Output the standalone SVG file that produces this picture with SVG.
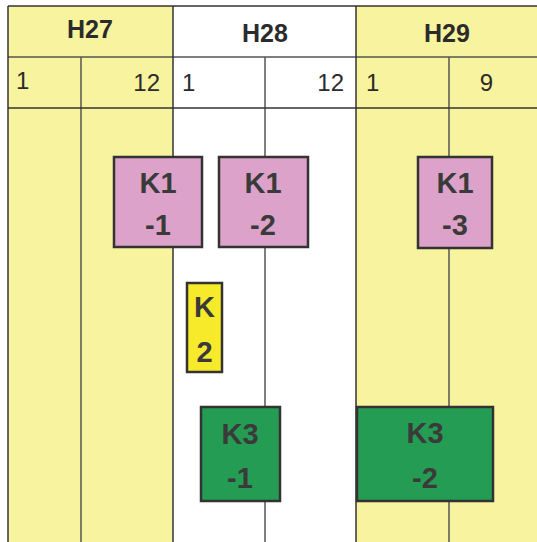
<svg xmlns="http://www.w3.org/2000/svg" width="537" height="542" viewBox="0 0 537 542">
<style>
.hd{font-family:"Liberation Sans",Arial,sans-serif;font-weight:bold;font-size:25px;fill:#2b2b2b;text-anchor:middle}
.sub{font-family:"Liberation Sans",Arial,sans-serif;font-size:24px;fill:#2b2b2b}
.grid{stroke:#333;stroke-width:1.5;fill:none}
.gl{stroke:#555;stroke-width:1.5;fill:none}
.box{stroke:#333;stroke-width:2.5}
.bt{font-family:"Liberation Sans",Arial,sans-serif;font-weight:bold;font-size:29px;fill:#3a3a3a;text-anchor:middle}
</style>
<rect x="0" y="0" width="537" height="542" fill="#fff"/>
<g id="grid">
<rect x="8" y="6" width="165" height="536" fill="#f8f39e"/>
<rect x="356" y="6" width="181" height="536" fill="#f8f39e"/>
<line class="gl" x1="81" y1="57" x2="81" y2="542"/>
<line class="gl" x1="265" y1="57" x2="265" y2="542"/>
<line class="gl" x1="449" y1="57" x2="449" y2="542"/>
<line class="grid" x1="8" y1="6" x2="537" y2="6"/>
<line class="gl" x1="8" y1="57" x2="537" y2="57" stroke="#777"/>
<line class="grid" x1="8" y1="108" x2="537" y2="108"/>
<line class="grid" x1="8" y1="6" x2="8" y2="542"/>
<line class="grid" x1="173" y1="6" x2="173" y2="542"/>
<line class="grid" x1="356" y1="6" x2="356" y2="542"/>
<text class="hd" x="90" y="38">H27</text>
<text class="hd" x="265" y="42">H28</text>
<text class="hd" x="447" y="42">H29</text>
<text class="sub" x="16" y="89">1</text>
<text class="sub" x="160" y="91" text-anchor="end">12</text>
<text class="sub" x="182" y="91">1</text>
<text class="sub" x="344" y="91" text-anchor="end">12</text>
<text class="sub" x="366" y="91">1</text>
<text class="sub" x="493" y="91" text-anchor="end">9</text>
</g>
<g id="K1-1">
<rect class="box" x="114" y="157" width="88" height="90" fill="#dda2c9"/>
<text class="bt" x="158" y="193">K1</text>
<text class="bt" x="158" y="235">-1</text>
</g>
<g id="K1-2">
<rect class="box" x="219" y="157" width="89" height="90" fill="#dda2c9"/>
<text class="bt" x="263" y="193">K1</text>
<text class="bt" x="263" y="235">-2</text>
</g>
<g id="K1-3">
<rect class="box" x="418" y="157" width="74" height="91" fill="#dda2c9"/>
<text class="bt" x="455" y="193">K1</text>
<text class="bt" x="455" y="235">-3</text>
</g>
<g id="K2">
<rect class="box" x="187" y="283" width="35" height="89" fill="#f6ea2b"/>
<text class="bt" x="204.5" y="317">K</text>
<text class="bt" x="204.5" y="362">2</text>
</g>
<g id="K3-1">
<rect class="box" x="201" y="407" width="79" height="94" fill="#259c53"/>
<text class="bt" x="240" y="444">K3</text>
<text class="bt" x="240" y="488">-1</text>
</g>
<g id="K3-2">
<rect class="box" x="357" y="407" width="136" height="94" fill="#259c53"/>
<text class="bt" x="425" y="443">K3</text>
<text class="bt" x="425" y="488">-2</text>
</g>
<g id="connectors"></g>
</svg>
